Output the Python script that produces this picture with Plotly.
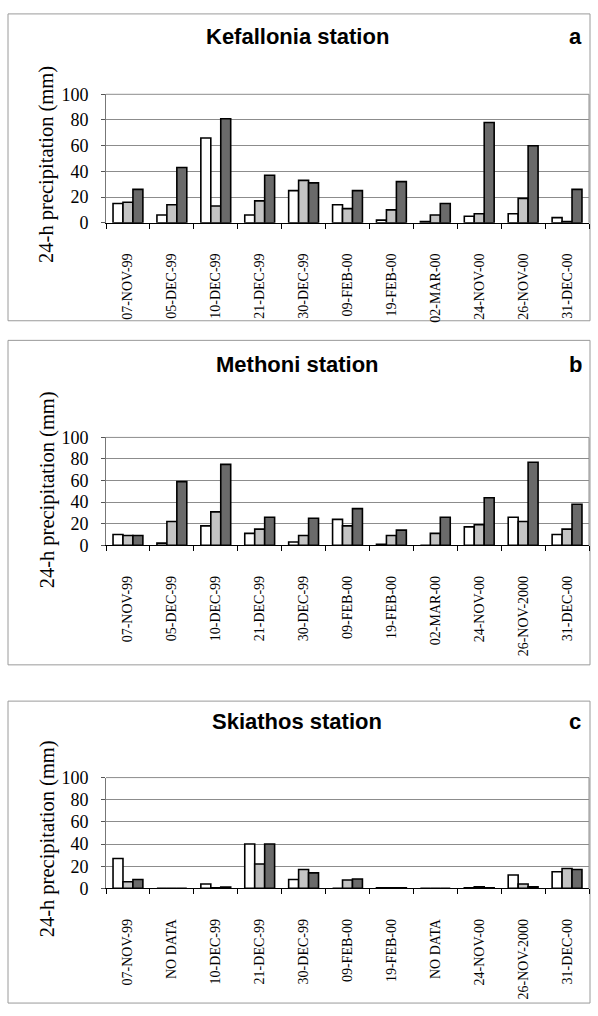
import plotly.graph_objects as go

# ---------------- data ----------------
labels_a = ["07-NOV-99", "05-DEC-99", "10-DEC-99", "21-DEC-99", "30-DEC-99", "09-FEB-00",
            "19-FEB-00", "02-MAR-00", "24-NOV-00", "26-NOV-00", "31-DEC-00"]
labels_b = ["07-NOV-99", "05-DEC-99", "10-DEC-99", "21-DEC-99", "30-DEC-99", "09-FEB-00",
            "19-FEB-00", "02-MAR-00", "24-NOV-00", "26-NOV-2000", "31-DEC-00"]
labels_c = ["07-NOV-99", "NO DATA", "10-DEC-99", "21-DEC-99", "30-DEC-99", "09-FEB-00",
            "19-FEB-00", "NO DATA", "24-NOV-00", "26-NOV-2000", "31-DEC-00"]

kef_white = [15, 6, 66, 6, 25, 14, 2, 1, 5, 7, 4]
kef_light = [16, 14, 13, 17, 33, 11, 10, 6, 7, 19, 1]
kef_dark = [26, 43, 81, 37, 31, 25, 32, 15, 78, 60, 26]

met_white = [10, 2, 18, 11, 3, 24, 1, 0, 17, 26, 10]
met_light = [9, 22, 31, 15, 9, 18, 9, 11, 19, 22, 15]
met_dark = [9, 59, 75, 26, 25, 34, 14, 26, 44, 77, 38]

ski_white = [27, 0, 4, 40, 8, 0, 0.5, 0, 0.6, 12, 15]
ski_light = [6, 0, 0.6, 22, 17, 7.5, 0.5, 0, 1.5, 4, 18]
ski_dark = [8, 0, 1.2, 40, 14, 8.5, 0.5, 0, 0.6, 1.5, 17]

titles = ["Kefallonia station", "Methoni station", "Skiathos station"]
letters = ["a", "b", "c"]
y_ticks = [0, 20, 40, 60, 80, 100]
y_title = "24-h precipitation (mm)"

# ---------------- layout geometry (pixels) ----------------
W, H = 598, 1016
panels = [
    dict(labels=labels_a, vals=(kef_white, kef_light, kef_dark),
         box=(8, 4, 590, 317), plot=(106, 86, 589, 217), title_y=27, ytitle_y=158),
    dict(labels=labels_b, vals=(met_white, met_light, met_dark),
         box=(8, 337, 590, 668), plot=(106, 436, 589, 546), title_y=362, ytitle_y=490),
    dict(labels=labels_c, vals=(ski_white, ski_light, ski_dark),
         box=(8, 705, 590, 1013), plot=(106, 783, 589, 896), title_y=726, ytitle_y=846),
]

colors = ["#ffffff", "#c4c4c4", "#6a6a6a"]
names = ["s1", "s2", "s3"]

def px(x):
    return x / W

def py(y):
    return 1 - y / H

fig = go.Figure()
shapes = []
annotations = []
for i, p in enumerate(panels):
    k = "" if i == 0 else str(i + 1)
    xa, ya = "x" + k, "y" + k
    xs = list(range(len(p["labels"])))
    for s in range(3):
        fig.add_trace(go.Bar(
            x=xs, y=p["vals"][s], xaxis=xa, yaxis=ya, name=names[s],
            marker=dict(color=colors[s], line=dict(color="#000000", width=1.6)),
            showlegend=False,
        ))
    x0, y0, x1, y1 = p["plot"]
    fig.layout["xaxis" + k] = dict(
        domain=[px(x0), px(x1)], anchor=ya, range=[-0.5, len(xs) - 0.5],
        tickmode="array", tickvals=xs, ticktext=p["labels"], tickangle=-90,
        ticks="", showgrid=False, zeroline=False,
        showline=True, linecolor="#000000", linewidth=1.2, mirror=False,
        tickfont=dict(family="Liberation Serif", size=14, color="#000000"),
        ticklabelstandoff=24,
        minor=dict(tick0=-0.5, dtick=1, ticks="outside", ticklen=5,
                   tickcolor="#000000", tickwidth=1, showgrid=False),
        fixedrange=True,
    )
    fig.layout["yaxis" + k] = dict(
        domain=[py(y1), py(y0)], anchor=xa, range=[0, 100],
        tickmode="array", tickvals=y_ticks, ticks="outside", ticklen=4,
        tickcolor="#555555", ticklabelstandoff=9,
        showgrid=True, gridcolor="#8c8c8c", gridwidth=1, zeroline=False,
        showline=True, linecolor="#777777", linewidth=1, mirror=False,
        tickfont=dict(family="Liberation Serif", size=18, color="#000000"),
        fixedrange=True,
    )
    # plot frame (top and right) in grey
    shapes.append(dict(type="line", xref="paper", yref="paper",
                       x0=px(x0), x1=px(x1), y0=py(y0), y1=py(y0),
                       line=dict(color="#8c8c8c", width=1)))
    shapes.append(dict(type="line", xref="paper", yref="paper",
                       x0=px(x1), x1=px(x1), y0=py(y0), y1=py(y1),
                       line=dict(color="#8c8c8c", width=1)))
    # panel box
    bx0, by0, bx1, by1 = p["box"]
    shapes.append(dict(type="rect", xref="paper", yref="paper",
                       x0=px(bx0), x1=px(bx1), y0=py(by1), y1=py(by0),
                       line=dict(color="#9a9a9a", width=1), layer="below"))
    annotations.append(dict(text="<b>" + titles[i] + "</b>", xref="paper", yref="paper",
                            x=px(297), y=py(p["title_y"]), showarrow=False,
                            xanchor="center", yanchor="middle",
                            font=dict(family="Liberation Sans", size=22, color="#000000")))
    annotations.append(dict(text="<b>" + letters[i] + "</b>", xref="paper", yref="paper",
                            x=px(575), y=py(p["title_y"]), showarrow=False,
                            xanchor="center", yanchor="middle",
                            font=dict(family="Liberation Sans", size=22, color="#000000")))
    annotations.append(dict(text=y_title, xref="paper", yref="paper",
                            x=px(47), y=py(p["ytitle_y"]), showarrow=False, textangle=-90,
                            xanchor="center", yanchor="middle",
                            font=dict(family="Liberation Serif", size=20.5, color="#000000")))

fig.update_layout(
    width=W, height=H, margin=dict(l=0, r=0, t=0, b=0),
    paper_bgcolor="#ffffff", plot_bgcolor="#ffffff",
    barmode="group", bargap=0.32, bargroupgap=0,
    shapes=shapes, annotations=annotations, showlegend=False,
)

fig.write_html(
    "out.html",
    config={"displayModeBar": False},
    post_script=(
        "document.documentElement.style.margin='0';"
        "document.documentElement.style.padding='0';"
        "document.body.style.margin='0';document.body.style.padding='0';"
        "document.body.style.overflow='hidden';"
        "var d=document.getElementById('{plot_id}');"
        "d.style.position='absolute';d.style.left='0px';d.style.top='0px';"
    ),
)
